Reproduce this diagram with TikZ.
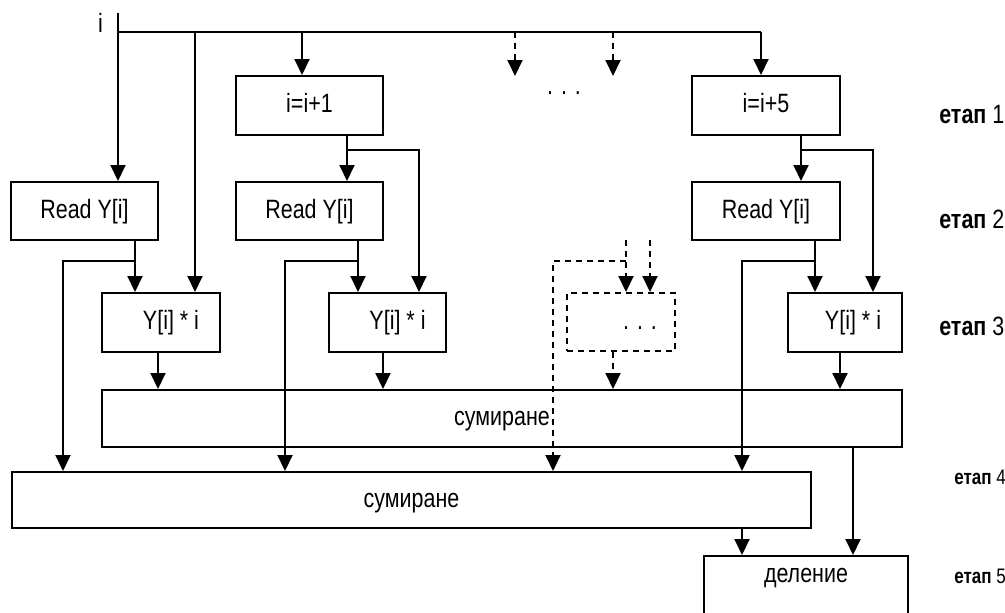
\documentclass[tikz,border=0pt]{standalone}
\usepackage{fontspec}
\setmainfont{Liberation Sans}[FakeStretch=0.81]
\usetikzlibrary{arrows.meta}
\begin{document}
\begin{tikzpicture}[x=1pt,y=-1pt,line width=2pt,
  font=\fontsize{26.5}{30}\selectfont,
  box/.style={draw,rectangle,inner sep=0pt,text height=19.5pt,text depth=5.5pt},
  dsh/.style={dash pattern=on 6pt off 5pt},
  arr/.style={-{Triangle[width=15pt,length=16pt]}},
  etap/.style={anchor=base west}]
\useasboundingbox (0,0) rectangle (1005,613);
% column coordinates
\coordinate (xin) at (118,0);
\coordinate (xb1) at (195,0);
\coordinate (xi1) at (302,0);
\coordinate (xd1) at (515,0);
\coordinate (xd2) at (613,0);
\coordinate (xi5) at (761,0);
\coordinate (x135) at (135,0);
\coordinate (x63) at (63,0);
\coordinate (x347) at (347,0);
\coordinate (x419) at (419,0);
\coordinate (x358) at (358,0);
\coordinate (x285) at (285,0);
\coordinate (x801) at (801,0);
\coordinate (x873) at (873,0);
\coordinate (x815) at (815,0);
\coordinate (x742) at (742,0);
\coordinate (x626) at (626,0);
\coordinate (x650) at (650,0);
\coordinate (x553) at (553,0);
\coordinate (x158) at (158,0);
\coordinate (x383) at (383,0);
\coordinate (x840) at (840,0);
\coordinate (x853) at (853,0);
\coordinate (ybus) at (0,32);
\coordinate (y150) at (0,150);
\coordinate (y261) at (0,261);
\coordinate (y240) at (0,240);
\coordinate (ydt) at (0,76);
% boxes
\node[box,minimum width=147pt,minimum height=59pt] (inc1) at (309.5,105.5) {i=i+1};
\node[box,minimum width=148pt,minimum height=59pt] (inc5) at (766,105.5) {i=i+5};
\node[box,minimum width=147pt,minimum height=58pt] (rb1) at (84.5,211) {Read Y[i]\hspace{16pt}};
\node[box,minimum width=147pt,minimum height=58pt] (rb2) at (309.5,211) {Read Y[i]\hspace{16pt}};
\node[box,minimum width=148pt,minimum height=58pt] (rb3) at (766,211) {Read Y[i]\hspace{16pt}};
\node[box,minimum width=118pt,minimum height=59pt] (m1) at (161,322.5) {\hspace{20pt}Y[i] * i};
\node[box,minimum width=117pt,minimum height=59pt] (m2) at (387.5,322.5) {\hspace{20pt}Y[i] * i};
\node[box,minimum width=114pt,minimum height=59pt] (m3) at (845,322.5) {\hspace{16pt}Y[i] * i};
\node[box,dsh,minimum width=108pt,minimum height=58pt] (md) at (621,322) {\hspace{38pt}. . .};
\node[box,minimum width=800pt,minimum height=57pt] (s1) at (502,418.5) {сумиране};
\node[box,minimum width=799pt,minimum height=56pt] (s2) at (411.5,500) {сумиране};
\node[box,minimum width=204pt,minimum height=70pt,anchor=north,text depth=37.5pt] (dv) at (806,555) {деление};
% labels
\node[anchor=base] (lbi) at (100.5,32) {i};
\node[anchor=base] (dots) at (564,94) {. . .};
\node[etap] (e1) at (935,123) {\textbf{етап} 1};
\node[etap] (e2) at (935,228) {\textbf{етап} 2};
\node[etap] (e3) at (935,335) {\textbf{етап} 3};
\node[etap,font=\fontsize{21}{24}\selectfont] (e4) at (950,484) {\textbf{етап} 4};
\node[etap,font=\fontsize{21}{24}\selectfont] (e5) at (950,583) {\textbf{етап} 5};
% input bus
\coordinate (itop) at (118,13);
\draw[arr] (itop) -- (rb1.north -| xin);
\draw (ybus -| xin) -- (ybus -| xi5);
\draw[arr] (ybus -| xb1) -- (m1.north -| xb1);
\draw[arr] (ybus -| xi1) -- (inc1.north -| xi1);
\draw[arr] (ybus -| xi5) -- (inc5.north -| xi5);
\draw[arr,dsh] (ybus -| xd1) -- (ydt -| xd1);
\draw[arr,dsh] (ybus -| xd2) -- (ydt -| xd2);
% column 1
\draw[arr] (rb1.south -| x135) -- (m1.north -| x135);
\draw[arr] (y261 -| x135) -| (s2.north -| x63);
% column 2
\draw[arr] (inc1.south -| x347) -- (rb2.north -| x347);
\draw[arr] (y150 -| x347) -| (m2.north -| x419);
\draw[arr] (rb2.south -| x358) -- (m2.north -| x358);
\draw[arr] (y261 -| x358) -| (s2.north -| x285);
% column 3
\draw[arr] (inc5.south -| x801) -- (rb3.north -| x801);
\draw[arr] (y150 -| x801) -| (m3.north -| x873);
\draw[arr] (rb3.south -| x815) -- (m3.north -| x815);
\draw[arr] (y261 -| x815) -| (s2.north -| x742);
% dashed column
\draw[arr,dsh] (y240 -| x626) -- (md.north -| x626);
\draw[arr,dsh] (y240 -| x650) -- (md.north -| x650);
\draw[arr,dsh] (y261 -| x626) -| (s2.north -| x553);
% to first summation
\draw[arr] (m1.south -| x158) -- (s1.north -| x158);
\draw[arr] (m2.south -| x383) -- (s1.north -| x383);
\draw[arr] (m3.south -| x840) -- (s1.north -| x840);
\draw[arr,dsh] (md.south -| xd2) -- (s1.north -| xd2);
% to division
\draw[arr] (s1.south -| x853) -- (dv.north -| x853);
\draw[arr] (s2.south -| x742) -- (dv.north -| x742);
\end{tikzpicture}
\end{document}
